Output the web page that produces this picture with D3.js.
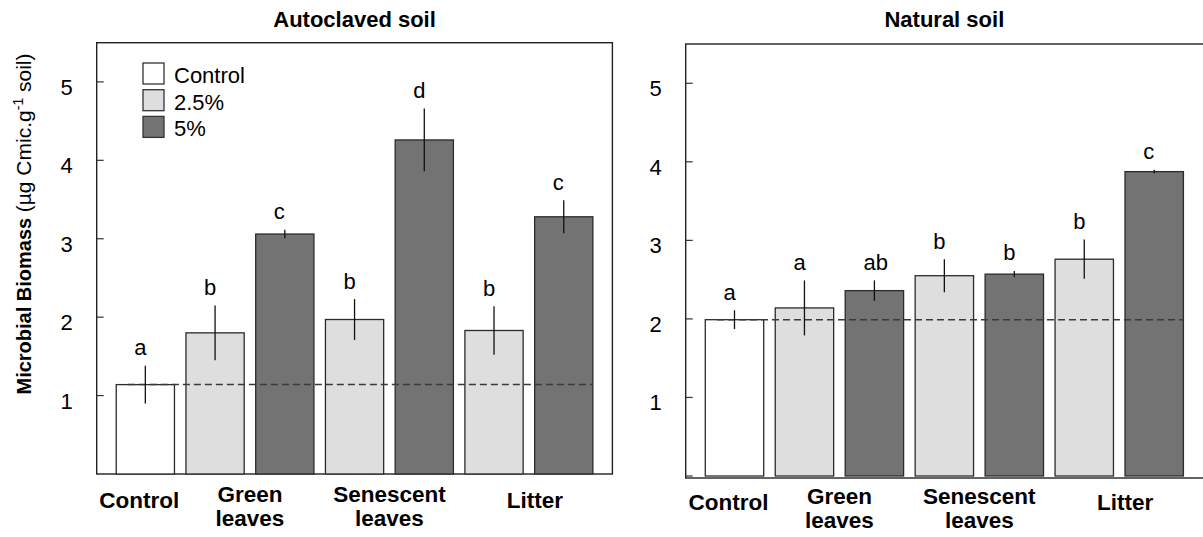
<!DOCTYPE html>
<html>
<head>
<meta charset="utf-8">
<script src="https://cdn.jsdelivr.net/npm/d3@7"></script>
<style>
  body { margin: 0; background: white; }
  svg { font-family: "Liberation Sans", Arial, sans-serif; }
</style>
</head>
<body>
<div id="chart"></div>
<script>
// bars in drawing order, left to right
const bars = ["Control", "Green 2.5%", "Green 5%", "Senescent 2.5%", "Senescent 5%", "Litter 2.5%", "Litter 5%"];
const barDose = ["Control", "2.5%", "5%", "2.5%", "5%", "2.5%", "5%"];

// Autoclaved soil
const autoclavedMean = [1.14, 1.80, 3.06, 1.97, 4.26, 1.83, 3.28];
const autoclavedErr = [0.24, 0.35, 0.055, 0.26, 0.40, 0.31, 0.21];
const autoclavedLetters = ["a", "b", "c", "b", "d", "b", "c"];

// Natural soil
const naturalMean = [1.99, 2.14, 2.36, 2.55, 2.57, 2.76, 3.875];
const naturalErr = [0.12, 0.35, 0.13, 0.21, 0.04, 0.25, 0.025];
const naturalLetters = ["a", "a", "ab", "b", "b", "b", "c"];

// x-axis groups
const groupLabels = [["Control"], ["Green", "leaves"], ["Senescent", "leaves"], ["Litter"]];
const groupBars = [[0], [1, 2], [3, 4], [5, 6]];

const yTicks = [1, 2, 3, 4, 5];
const legendItems = ["Control", "2.5%", "5%"];

let width = 1203, height = 537;

let svg = d3.select('#chart')
    .append('svg')
    .attr('width', width)
    .attr('height', height)
    .style('background', 'white');

const color = d3.scaleOrdinal()
    .domain(legendItems)
    .range(["#ffffff", "#dedede", "#737373"]);

function drawPanel(p) {
    let x = d3.scaleBand()
        .domain(bars)
        .range([p.left, p.right])
        .paddingInner(0.165)
        .paddingOuter(0.28);

    let y = d3.scaleLinear()
        .domain([0, 5.5])
        .range([p.bottom, p.top]);

    const g = svg.append('g');

    // frame
    g.append('rect')
        .attr('x', p.left)
        .attr('y', p.top)
        .attr('width', p.frameRight - p.left)
        .attr('height', p.frameBottom - p.top)
        .attr('fill', 'none')
        .attr('stroke', '#222')
        .attr('stroke-width', 1.4);

    // y ticks, pointing inwards
    g.selectAll('.tick')
        .data(p.ticks)
        .enter()
        .append('line')
        .attr('x1', p.left)
        .attr('x2', p.left + 7)
        .attr('y1', d => y(d))
        .attr('y2', d => y(d))
        .attr('stroke', '#333')
        .attr('stroke-width', 1.2);

    g.selectAll('.ticklabel')
        .data(yTicks)
        .enter()
        .append('text')
        .attr('x', p.left - 24)
        .attr('y', d => y(d) + 13)
        .attr('text-anchor', 'end')
        .style('font-size', '22px')
        .text(d => d);

    // bars
    g.selectAll('.bar')
        .data(bars)
        .enter()
        .append('rect')
        .attr('x', d => x(d))
        .attr('y', (d, i) => y(p.mean[i]))
        .attr('width', x.bandwidth())
        .attr('height', (d, i) => y(0) - y(p.mean[i]))
        .attr('fill', (d, i) => color(barDose[i]))
        .attr('stroke', '#2b2b2b')
        .attr('stroke-width', 1.3);

    // control reference line
    g.append('line')
        .attr('x1', x(bars[0]) + x.bandwidth() * 0.2)
        .attr('x2', x(bars[6]) + x.bandwidth())
        .attr('y1', y(p.mean[0]))
        .attr('y2', y(p.mean[0]))
        .attr('stroke', '#3a3a3a')
        .attr('stroke-width', 1.5)
        .attr('stroke-dasharray', '7,4');

    // error bars
    g.selectAll('.err')
        .data(bars)
        .enter()
        .append('line')
        .attr('x1', d => x(d) + x.bandwidth() / 2)
        .attr('x2', d => x(d) + x.bandwidth() / 2)
        .attr('y1', (d, i) => y(p.mean[i] + p.err[i]))
        .attr('y2', (d, i) => y(p.mean[i] - p.err[i]))
        .attr('stroke', '#111')
        .attr('stroke-width', 1.3);

    // significance letters
    g.selectAll('.letter')
        .data(bars)
        .enter()
        .append('text')
        .attr('x', d => x(d) + x.bandwidth() / 2 - 11)
        .attr('y', (d, i) => y(p.mean[i] + p.err[i]) - 10.5)
        .style('font-size', '22px')
        .text((d, i) => p.letters[i]);

    // group labels
    groupLabels.forEach((lines, gi) => {
        const idx = groupBars[gi];
        let cx = (x(bars[idx[0]]) + x(bars[idx[idx.length - 1]]) + x.bandwidth()) / 2;
        if (gi === 0) cx -= 6;
        if (gi === groupLabels.length - 1) cx += 6;
        const t = g.append('text')
            .attr('text-anchor', 'middle')
            .style('font-size', '22.5px')
            .style('font-weight', 'bold');
        if (lines.length === 1) {
            t.append('tspan').attr('x', cx).attr('y', p.bottom + 34).text(lines[0]);
        } else {
            t.append('tspan').attr('x', cx).attr('y', p.bottom + 28).text(lines[0]);
            t.append('tspan').attr('x', cx).attr('y', p.bottom + 52).text(lines[1]);
        }
    });

    // panel title
    svg.append('text')
        .text(p.title)
        .attr('x', (p.left + p.right) / 2)
        .attr('y', 27)
        .attr('text-anchor', 'middle')
        .style('font-size', '22px')
        .style('font-weight', 'bold');

    return { x, y, g };
}

drawPanel({
    title: 'Autoclaved soil',
    left: 96.7, right: 612.4, frameRight: 612.4,
    top: 42.7, bottom: 474, frameBottom: 474,
    ticks: yTicks,
    mean: autoclavedMean, err: autoclavedErr, letters: autoclavedLetters
});

drawPanel({
    title: 'Natural soil',
    left: 685.7, right: 1203, frameRight: 1205,
    top: 44, bottom: 476, frameBottom: 478,
    ticks: [0].concat(yTicks),
    mean: naturalMean, err: naturalErr, letters: naturalLetters
});

// legend inside the left panel
const legend = svg.append('g')
    .attr('transform', 'translate(143, 63)');

legendItems.forEach((item, i) => {
    legend.append('rect')
        .attr('x', 0)
        .attr('y', i * 26.7)
        .attr('width', 21)
        .attr('height', 21)
        .attr('fill', color(item))
        .attr('stroke', '#333')
        .attr('stroke-width', 1.3);

    legend.append('text')
        .attr('x', 31)
        .attr('y', i * 26.7 + 20)
        .style('font-size', '22px')
        .text(item);
});

// y-axis title
const ytitle = svg.append('text')
    .attr('transform', 'translate(31, 224) rotate(-90)')
    .attr('text-anchor', 'middle')
    .style('font-size', '21px');
ytitle.append('tspan').style('font-weight', 'bold').style('font-size', '20px').text('Microbial Biomass ');
ytitle.append('tspan').text('(µg Cmic.g');
ytitle.append('tspan').attr('dy', -8).style('font-size', '14px').text('-1');
ytitle.append('tspan').attr('dy', 8).text(' soil)');
</script>
</body>
</html>
